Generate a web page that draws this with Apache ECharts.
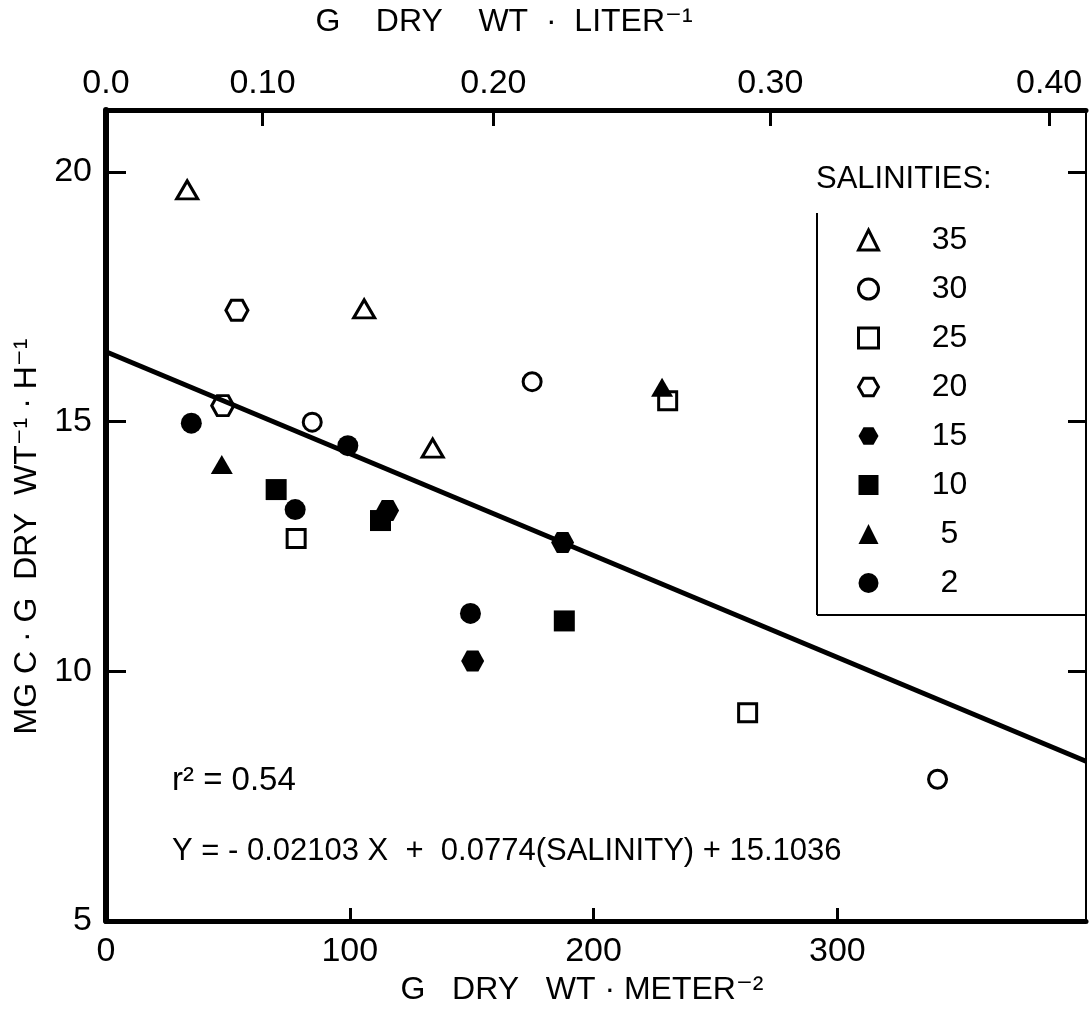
<!DOCTYPE html>
<html><head><meta charset="utf-8">
<script src="https://cdn.jsdelivr.net/npm/echarts@6/dist/echarts.min.js"></script>
<style>html,body{margin:0;padding:0;background:#fff}#c{width:1089px;height:1011px}</style>
</head><body><div id="c"></div>
<script>
// ---- data ----
const salinities = ['35','30','25','20','15','10','5','2'];
const s35 = [[33.3,19.64],[105.9,17.26],[134.0,14.47]];
const s30 = [[84.6,14.99],[174.8,15.80],[341.1,7.84]];
const s25 = [[78.0,12.66],[230.4,15.42],[263.2,9.17]];
const s20 = [[53.7,17.23],[47.9,15.32]];
const s15 = [[115.5,13.22],[187.3,12.58],[150.4,10.21]];
const s10 = [[69.8,13.64],[112.6,13.02],[188.0,11.01]];
const s5  = [[47.5,14.14],[228.1,15.69]];
const s2  = [[35.0,14.97],[99.2,14.52],[77.6,13.24],[149.5,11.16]];
const regressionLine = [[0,16.4],[402,8.2]];
const bottomTickValues = [0,100,200,300];
const leftTickValues = [5,10,15,20];
const topTickLabels = ['0.0','0.10','0.20','0.30','0.40'];
const topTickPositions = [0,64.2,158.9,272.5,386.9];
const r2Text = 'r² = 0.54';
const equationText = 'Y = - 0.02103 X  +  0.0774(SALINITY) + 15.1036';

// ---- styling ----
const FONT = '"Liberation Sans", "DejaVu Sans", sans-serif';
const HEX = 'path://M0,8.66 L5,0 L15,0 L20,8.66 L15,17.32 L5,17.32 Z';
const seriesData = [s35,s30,s25,s20,s15,s10,s5,s2];
const styles = [
  {symbol:'triangle', size:[21,18], open:true},
  {symbol:'circle', size:18, open:true},
  {symbol:'rect', size:18, open:true},
  {symbol:HEX, size:[22,20], open:true},
  {symbol:HEX, size:[23,21], open:false},
  {symbol:'rect', size:21, open:false},
  {symbol:'triangle', size:[22,19], open:false},
  {symbol:'circle', size:21, open:false}
];
function itemStyleFor(st){
  return st.open ? {color:'rgba(255,255,255,0)', borderColor:'#000', borderWidth:3, opacity:1}
                 : {color:'#000', borderColor:'#000', borderWidth:0, opacity:1};
}
const series = [{
  type:'line', data:regressionLine, symbol:'none', silent:true,
  lineStyle:{color:'#000', width:5}, z:1
}];
salinities.forEach((s,i)=>{
  series.push({
    name:s, type:'scatter', data:seriesData[i],
    symbol:styles[i].symbol, symbolSize:styles[i].size,
    itemStyle:itemStyleFor(styles[i]), z:2+i
  });
});

const chart = echarts.init(document.getElementById('c'));
chart.setOption({
  animation:false,
  backgroundColor:'#fff',
  textStyle:{fontFamily:FONT, color:'#000'},
  grid:{left:106, top:110, right:3, bottom:87, containLabel:false},
  xAxis:[{
    type:'value', position:'bottom', min:0, max:402,
    axisLine:{show:true, onZero:false, lineStyle:{color:'#000', width:5}},
    axisTick:{show:true, inside:true, length:13, customValues:[100,200,300], lineStyle:{color:'#000', width:3}},
    axisLabel:{customValues:bottomTickValues, fontSize:34, color:'#000', margin:14, fontFamily:FONT},
    splitLine:{show:false},
    name:'G   DRY   WT · METER⁻²', nameLocation:'middle', nameGap:50,
    nameTextStyle:{fontSize:32, color:'#000', fontFamily:FONT, padding:[0,28,0,0]}
  },{
    type:'value', position:'top', min:0, max:402,
    axisLine:{show:true, onZero:false, lineStyle:{color:'#000', width:5}},
    axisTick:{show:true, inside:true, length:16, customValues:topTickPositions.slice(1), lineStyle:{color:'#000', width:3}},
    axisLabel:{customValues:topTickPositions, fontSize:34, color:'#000', margin:9, fontFamily:FONT,
      formatter:(v)=>{const k=topTickPositions.indexOf(v); return k>=0?topTickLabels[k]:'';}},
    splitLine:{show:false},
    name:'G    DRY    WT  ·  LITER⁻¹', nameLocation:'middle', nameGap:72,
    nameTextStyle:{fontSize:32, color:'#000', fontFamily:FONT, padding:[0,184,0,0]}
  }],
  yAxis:[{
    type:'value', position:'left', min:5, max:21.24,
    axisLine:{show:true, onZero:false, lineStyle:{color:'#000', width:6}},
    axisTick:{show:true, inside:true, length:20, customValues:[10,15,20], lineStyle:{color:'#000', width:3}},
    axisLabel:{customValues:leftTickValues, fontSize:34, color:'#000', margin:14, fontFamily:FONT},
    splitLine:{show:false},
    name:'MG C · G  DRY  WT⁻¹ · H⁻¹', nameLocation:'middle', nameGap:46, nameRotate:90,
    nameTextStyle:{fontSize:32, color:'#000', fontFamily:FONT, padding:[0,42,0,0]}
  },{
    type:'value', position:'right', min:5, max:21.24,
    axisLine:{show:true, onZero:false, lineStyle:{color:'#000', width:2}},
    axisTick:{show:true, inside:true, length:18, customValues:[10,15,20], lineStyle:{color:'#000', width:3}},
    axisLabel:{show:false},
    splitLine:{show:false}
  }],
  legend:{
    orient:'vertical', left:852, top:219,
    itemWidth:20, itemHeight:20, itemGap:17,
    data:salinities.map((s,i)=>({name:s, icon:styles[i].symbol, itemStyle:itemStyleFor(styles[i])})),
    formatter:(n)=>'{a|'+n+'}',
    textStyle:{fontSize:32, color:'#000', fontFamily:FONT, lineHeight:30,
      rich:{a:{width:132, align:'center', fontSize:32, lineHeight:30, fontFamily:FONT, color:'#000'}}},
    selectedMode:false
  },
  graphic:[
    {type:'text', left:816, top:164, style:{text:'SALINITIES:', font:'31px '+FONT, fill:'#000'}},
    {type:'line', shape:{x1:817, y1:213, x2:817, y2:615}, style:{stroke:'#000', lineWidth:2}},
    {type:'line', shape:{x1:817, y1:615, x2:1087, y2:615}, style:{stroke:'#000', lineWidth:2}},
    {type:'text', left:172, top:764, style:{text:r2Text, font:'33px '+FONT, fill:'#000'}},
    {type:'text', left:172, top:836, style:{text:equationText, font:'31px '+FONT, fill:'#000'}}
  ],
  series:series
});
</script></body></html>
